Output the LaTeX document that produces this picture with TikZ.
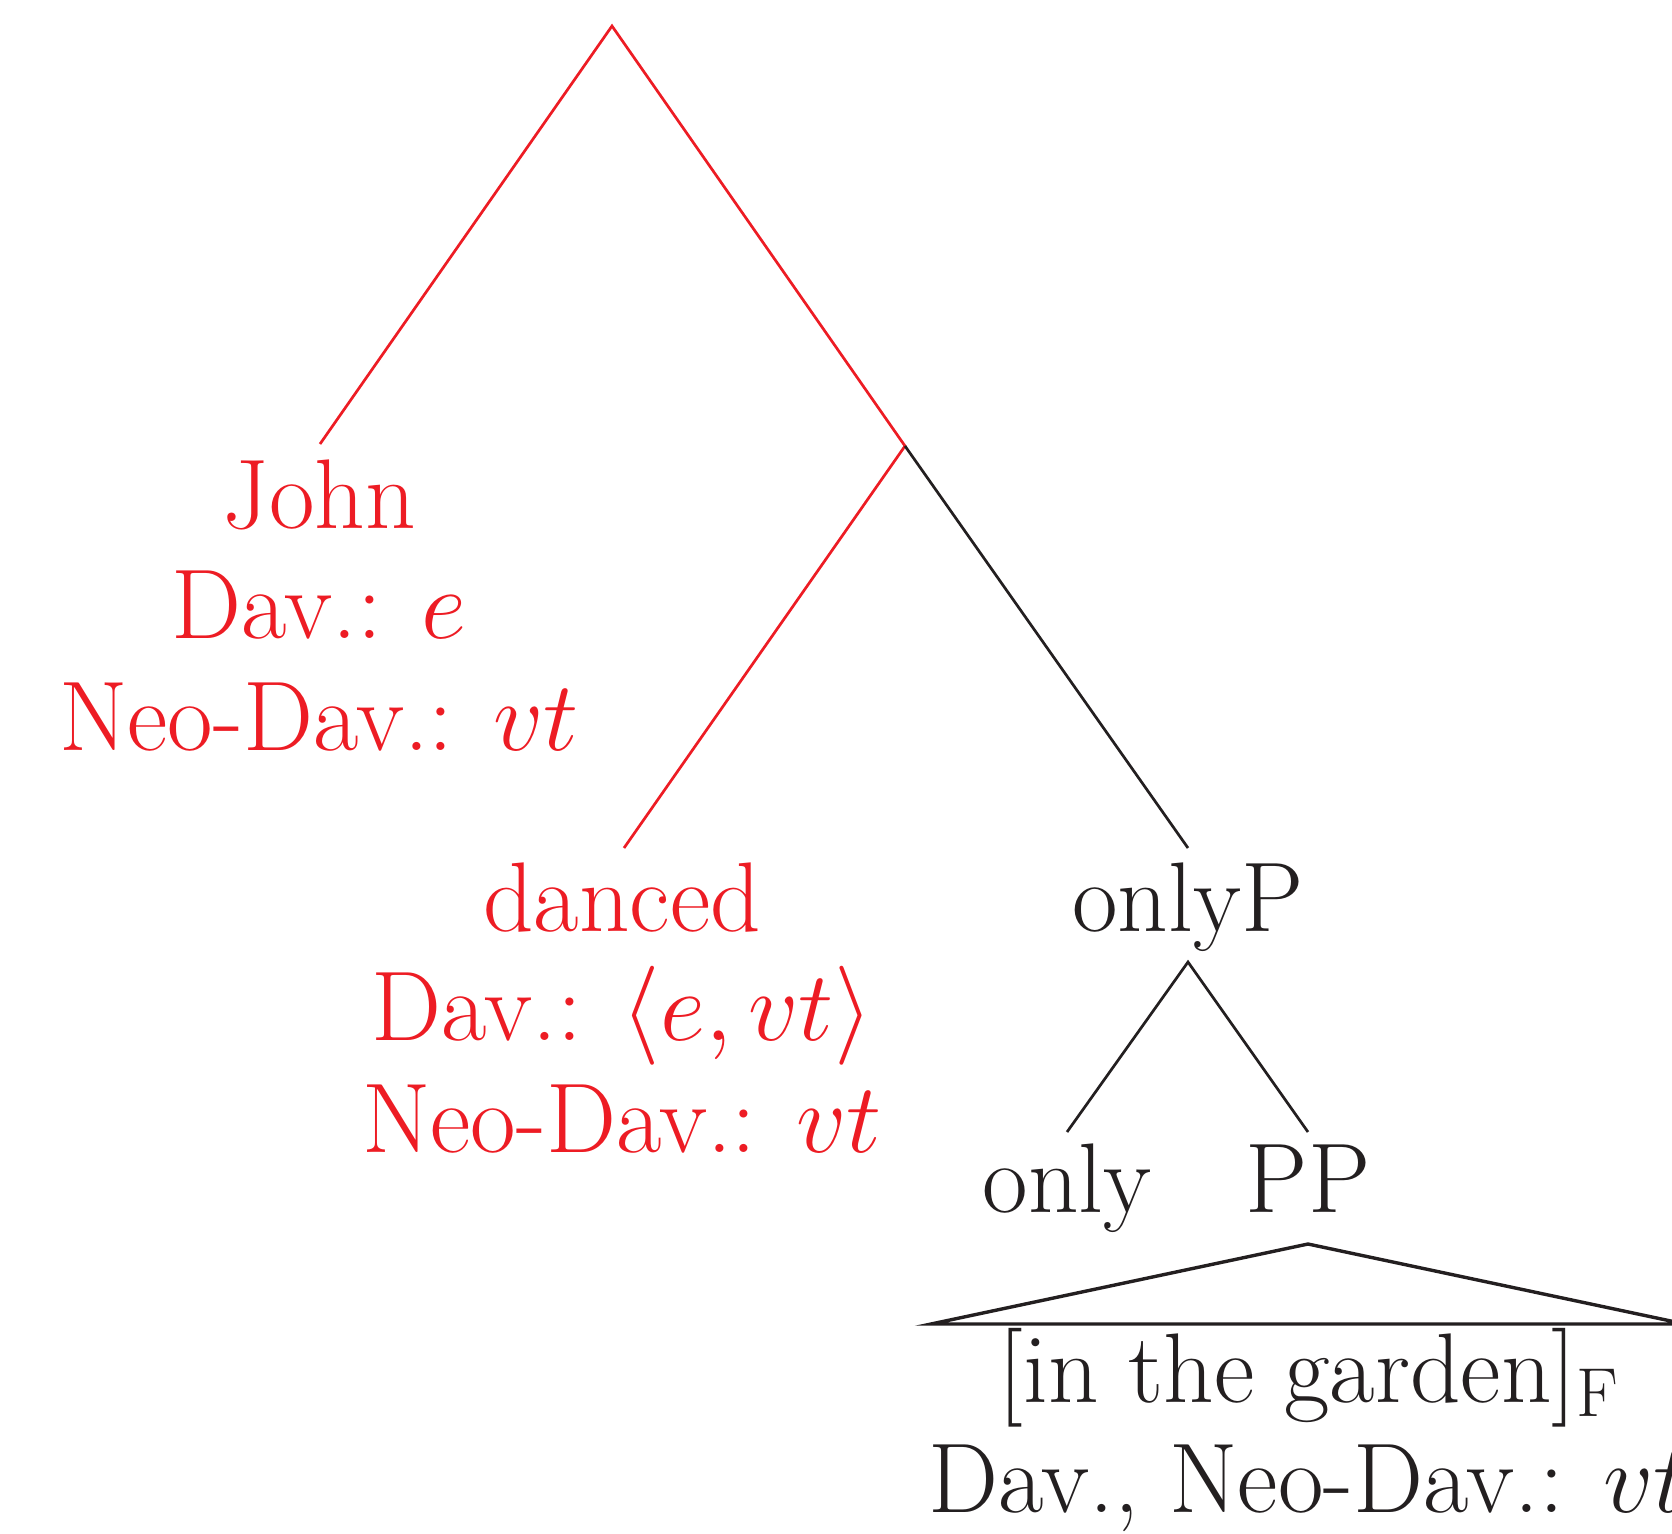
\RequirePackage{fix-cm}
\documentclass[tikz,border=0pt]{standalone}
\usepackage{fontspec}
\definecolor{tred}{HTML}{ED1C24}
\definecolor{tblack}{HTML}{231F20}
\begin{document}
\begin{tikzpicture}[x=0.5pt,y=-0.5pt,
  lab/.style={anchor=base,inner sep=0pt,font=\fontsize{49.5}{58}\selectfont},
  redlab/.style={lab,text=tred},
  blacklab/.style={lab,text=tblack},
  rededge/.style={draw=tred,line width=1.35pt},
  blackedge/.style={draw=tblack,line width=1.35pt},
  triedge/.style={draw=tblack,line width=1.7pt}]
\clip (0,0) rectangle (1672,1533);
\useasboundingbox (0,0) rectangle (1672,1533);
% labels
\node[redlab] (john) at (319,528) {John};
\node[redlab] (johnD) at (319,638) {Dav.: $e$};
\node[redlab] (johnN) at (319,750) {Neo-Dav.: $vt$};
\node[redlab] (danced) at (622,931) {danced};
\node[redlab] (dancedD) at (622,1040) {Dav.: $\langle e, vt\rangle$};
\node[redlab] (dancedN) at (622,1152) {Neo-Dav.: $vt$};
\node[blacklab] (onlyP) at (1188,931) {onlyP};
\node[blacklab] (only) at (1067,1212) {only};
\node[blacklab] (PP) at (1308,1212) {PP};
\node[blacklab] (garden) at (1309,1402) {[in the garden]\textsubscript{F}};
\node[blacklab] (gardenD) at (1309,1512) {Dav., Neo-Dav.: $vt$};
% edge end points
\coordinate (root) at (612,26);
\coordinate (jn) at (905,446);
\coordinate (johnT) at (320,444);
\coordinate (dancedT) at (624,848);
\coordinate (onlyPT) at (1188,848);
\coordinate (onlyPB) at (1188,962);
\coordinate (onlyT) at (1067,1132);
\coordinate (PPT) at (1308,1132);
\coordinate (PPB) at (1308,1244);
\coordinate (triL) at (931,1324);
\coordinate (triR) at (1685,1324);
% edges
\draw[rededge] (johnT) -- (root) -- (jn) -- (dancedT);
\draw[blackedge] (jn) -- (onlyPT);
\draw[blackedge] (onlyT) -- (onlyPB) -- (PPT);
\draw[triedge] (PPB) -- (triL) -- (triR) -- cycle;
\end{tikzpicture}
\end{document}
